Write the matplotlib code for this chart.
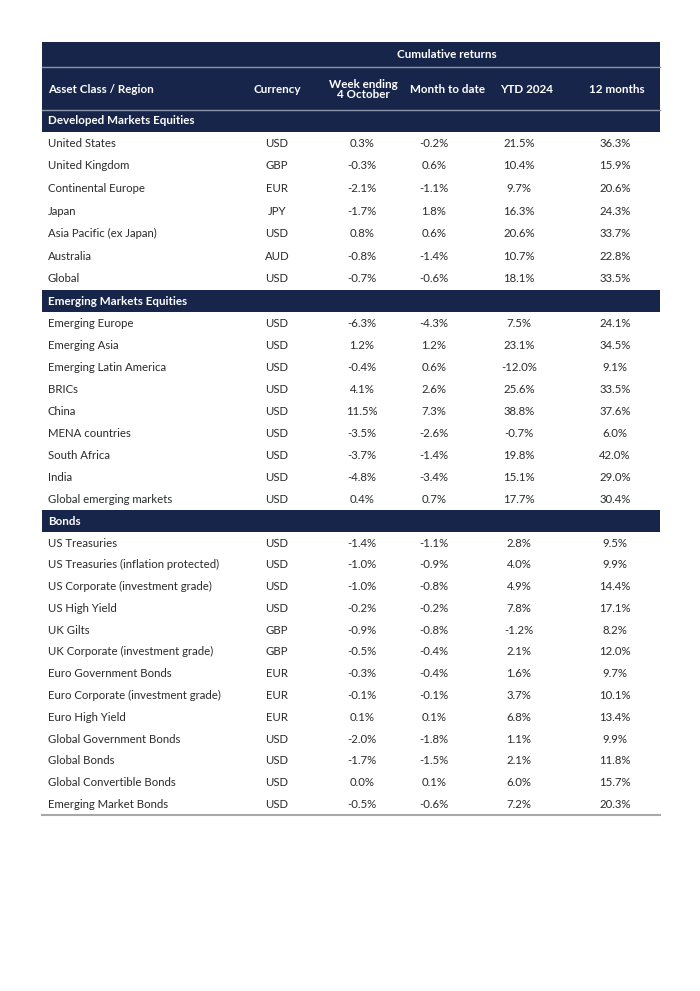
import matplotlib.pyplot as plt

plt.rcParams['font.family'] = ['Lato', 'DejaVu Sans']

# table data
columns = ['Asset Class / Region', 'Currency', 'Week ending\n4 October', 'Month to date', 'YTD 2024', '12 months']

sections = ['Developed Markets Equities', 'Emerging Markets Equities', 'Bonds']

dev_names = ['United States', 'United Kingdom', 'Continental Europe', 'Japan', 'Asia Pacific (ex Japan)', 'Australia', 'Global']
dev_ccy = ['USD', 'GBP', 'EUR', 'JPY', 'USD', 'AUD', 'USD']
dev_week = ['0.3%', '-0.3%', '-2.1%', '-1.7%', '0.8%', '-0.8%', '-0.7%']
dev_mtd = ['-0.2%', '0.6%', '-1.1%', '1.8%', '0.6%', '-1.4%', '-0.6%']
dev_ytd = ['21.5%', '10.4%', '9.7%', '16.3%', '20.6%', '10.7%', '18.1%']
dev_12m = ['36.3%', '15.9%', '20.6%', '24.3%', '33.7%', '22.8%', '33.5%']

em_names = ['Emerging Europe', 'Emerging Asia', 'Emerging Latin America', 'BRICs', 'China', 'MENA countries',
            'South Africa', 'India', 'Global emerging markets']
em_ccy = ['USD'] * 9
em_week = ['-6.3%', '1.2%', '-0.4%', '4.1%', '11.5%', '-3.5%', '-3.7%', '-4.8%', '0.4%']
em_mtd = ['-4.3%', '1.2%', '0.6%', '2.6%', '7.3%', '-2.6%', '-1.4%', '-3.4%', '0.7%']
em_ytd = ['7.5%', '23.1%', '-12.0%', '25.6%', '38.8%', '-0.7%', '19.8%', '15.1%', '17.7%']
em_12m = ['24.1%', '34.5%', '9.1%', '33.5%', '37.6%', '6.0%', '42.0%', '29.0%', '30.4%']

bond_names = ['US Treasuries', 'US Treasuries (inflation protected)', 'US Corporate (investment grade)',
              'US High Yield', 'UK Gilts', 'UK Corporate (investment grade)', 'Euro Government Bonds',
              'Euro Corporate (investment grade)', 'Euro High Yield', 'Global Government Bonds',
              'Global Bonds', 'Global Convertible Bonds', 'Emerging Market Bonds']
bond_ccy = ['USD', 'USD', 'USD', 'USD', 'GBP', 'GBP', 'EUR', 'EUR', 'EUR', 'USD', 'USD', 'USD', 'USD']
bond_week = ['-1.4%', '-1.0%', '-1.0%', '-0.2%', '-0.9%', '-0.5%', '-0.3%', '-0.1%', '0.1%', '-2.0%', '-1.7%', '0.0%', '-0.5%']
bond_mtd = ['-1.1%', '-0.9%', '-0.8%', '-0.2%', '-0.8%', '-0.4%', '-0.4%', '-0.1%', '0.1%', '-1.8%', '-1.5%', '0.1%', '-0.6%']
bond_ytd = ['2.8%', '4.0%', '4.9%', '7.8%', '-1.2%', '2.1%', '1.6%', '3.7%', '6.8%', '1.1%', '2.1%', '6.0%', '7.2%']
bond_12m = ['9.5%', '9.9%', '14.4%', '17.1%', '8.2%', '12.0%', '9.7%', '10.1%', '13.4%', '9.9%', '11.8%', '15.7%', '20.3%']

blocks = [
    (dev_names, dev_ccy, dev_week, dev_mtd, dev_ytd, dev_12m),
    (em_names, em_ccy, em_week, em_mtd, em_ytd, em_12m),
    (bond_names, bond_ccy, bond_week, bond_mtd, bond_ytd, bond_12m),
]

navy = '#18254a'
text_col = '#2b2b2b'
left, right = 42, 660
col_x = [48, 277, 362, 434, 519, 615]
head_x = [48, 277, 363, 447, 527, 617]
row_hs = [22.6, 22.0, 21.77]
sec_h = 22
fs = 8.2
fs_head = 8.4

fig = plt.figure(figsize=(7, 9.91), dpi=100)
ax = fig.add_axes([0, 0, 1, 1])
ax.set_xlim(0, 700)
ax.set_ylim(991, 0)
ax.axis('off')

# header
top = 42
ax.add_patch(plt.Rectangle((left, top), right - left, 68, color=navy, lw=0))
ax.text(447, 54, 'Cumulative returns', color='white', fontsize=fs_head, fontweight='bold',
        ha='center', va='center')
ax.plot([left, right], [67, 67], color='#8a93a8', lw=1)
for i, c in enumerate(columns):
    ax.text(head_x[i], 89.5, c, color='white', fontsize=fs_head, fontweight='bold',
            ha='left' if i == 0 else 'center', va='center', linespacing=0.85)
ax.plot([left, right], [110, 110], color='#8a93a8', lw=1)

y = 110
for sec, blk, rh in zip(sections, blocks, row_hs):
    ax.add_patch(plt.Rectangle((left, y), right - left, sec_h, color=navy, lw=0))
    ax.text(col_x[0], y + sec_h / 2, sec, color='white', fontsize=fs_head, fontweight='bold', va='center')
    y += sec_h
    names = blk[0]
    for r in range(len(names)):
        yc = y + rh / 2
        for i in range(6):
            ax.text(col_x[i], yc, blk[i][r], color=text_col, fontsize=fs,
                    ha='left' if i == 0 else 'center', va='center')
        y += rh

ax.plot([left, right], [y, y], color='#a8a8a8', lw=1.5)

fig.savefig('out.png', dpi=100, facecolor='white')
